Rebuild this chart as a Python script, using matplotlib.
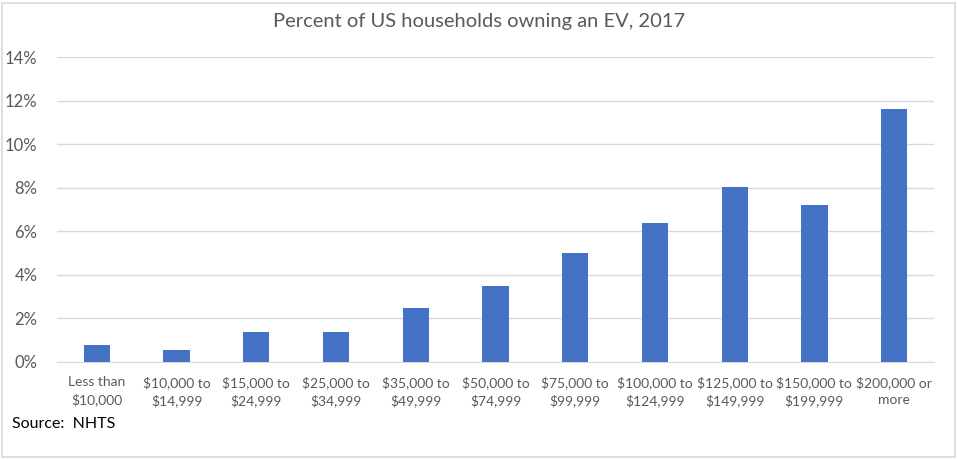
import matplotlib.pyplot as plt
from matplotlib.patches import Rectangle
from matplotlib.ticker import FuncFormatter

categories = ["Less than\n$10,000", "$10,000 to\n$14,999", "$15,000 to\n$24,999",
              "$25,000 to\n$34,999", "$35,000 to\n$49,999", "$50,000 to\n$74,999",
              "$75,000 to\n$99,999", "$100,000 to\n$124,999", "$125,000 to\n$149,999",
              "$150,000 to\n$199,999", "$200,000 or\nmore"]
values = [0.8, 0.55, 1.4, 1.4, 2.5, 3.5, 5.0, 6.4, 8.05, 7.2, 11.6]
yticks = [0, 2, 4, 6, 8, 10, 12, 14]

plt.rcParams['font.family'] = ['Lato', 'DejaVu Sans']
fig = plt.figure(figsize=(9.58, 4.59), dpi=100)
W, H = 958, 459
ax = fig.add_axes([57 / W, 1 - 362 / H, (934 - 57) / W, (362 - 57) / H])

x = list(range(len(categories)))
ax.bar(x, values, width=0.33, color='#4472C4', zorder=3)
ax.set_xlim(-0.5, len(categories) - 0.5)
ax.set_ylim(0, 14)
ax.set_yticks(yticks)
ax.yaxis.set_major_formatter(FuncFormatter(lambda v, p: f"{int(v)}%"))
ax.set_xticks(x)
ax.set_xticklabels(categories, fontsize=10, color='#595959', linespacing=1.5)
ax.tick_params(axis='y', labelsize=12, colors='#595959', length=0, pad=14)
ax.tick_params(axis='x', length=0, pad=10)
ax.grid(axis='y', color='#D9D9D9', linewidth=1, zorder=0)
for s in ['top', 'right', 'left']:
    ax.spines[s].set_visible(False)
ax.spines['bottom'].set_color('#D9D9D9')

fig.text(479 / W, 1 - 22 / H, "Percent of US households owning an EV, 2017",
         ha='center', va='center', fontsize=14.5, color='#595959')
fig.text(12 / W, 1 - 424 / H, "Source:  NHTS", ha='left', va='center',
         fontsize=11.5, color='black')

fig.patches.append(Rectangle((2 / W, 2 / H), 953 / W, 454 / H, transform=fig.transFigure,
                             fill=False, edgecolor='#D9D9D9', linewidth=1.2))
fig.savefig('out.png', dpi=100)
